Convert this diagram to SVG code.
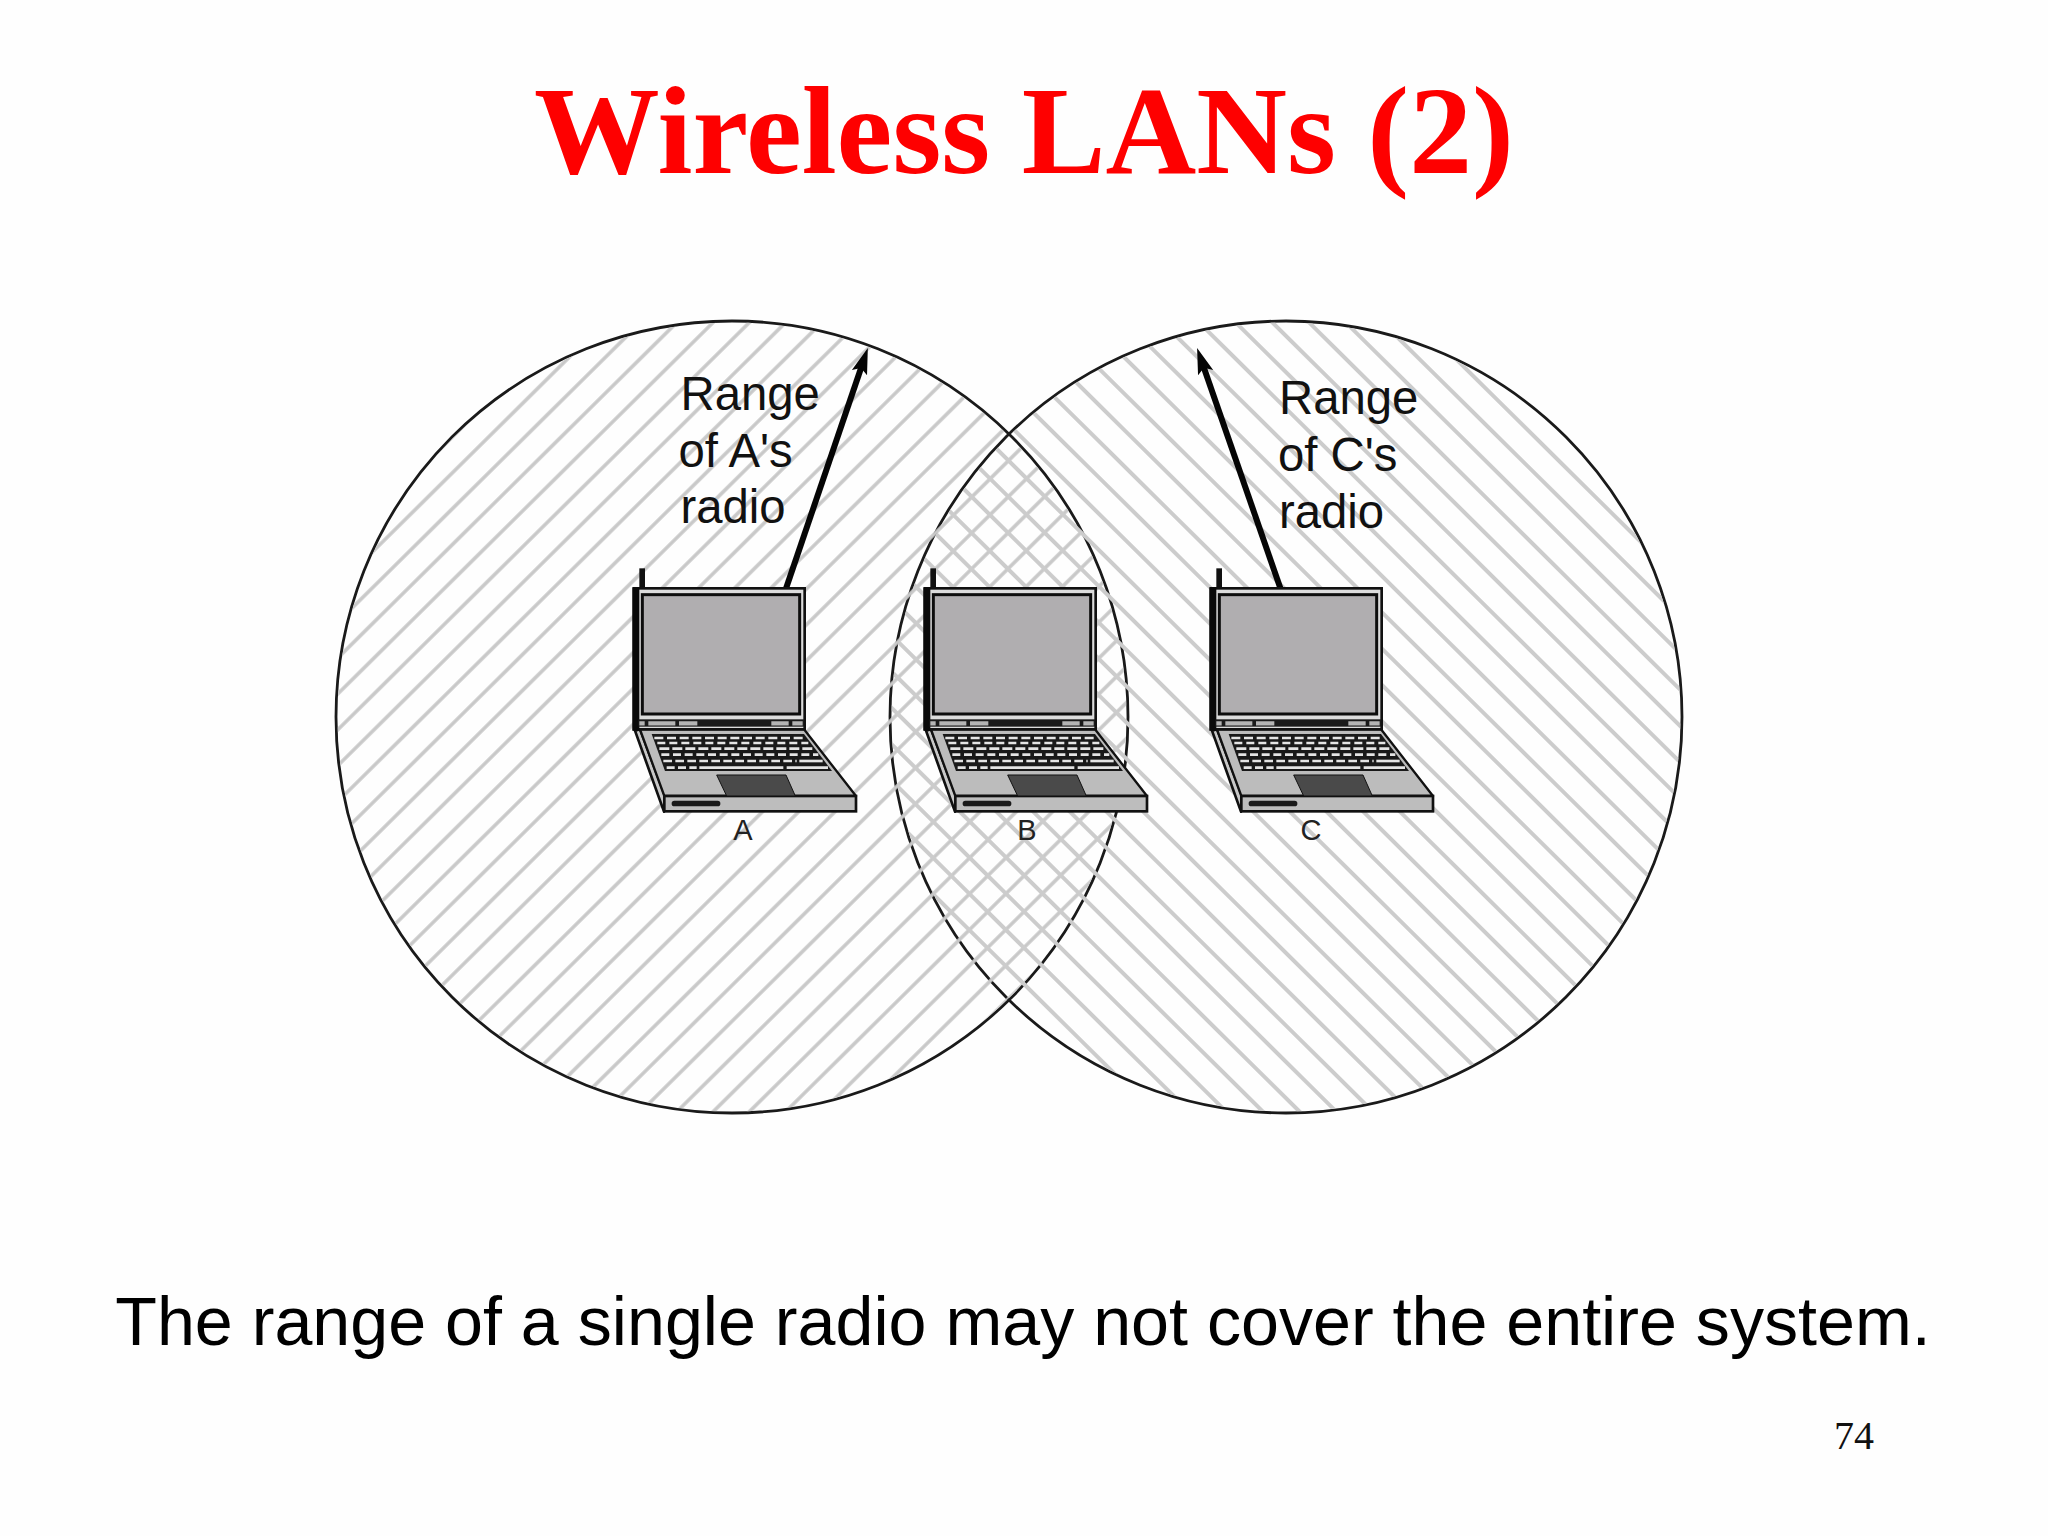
<svg xmlns="http://www.w3.org/2000/svg" width="2048" height="1536" viewBox="0 0 2048 1536">
<style>
.serif{font-family:"Liberation Serif","Times New Roman",serif}
.sans{font-family:"Liberation Sans",Arial,sans-serif}
.range{font-size:47.3px;fill:#111}
.lbl{font-size:29px;fill:#222;text-anchor:middle}
.ring{fill:none;stroke:#1a1a1a;stroke-width:2.8}
.arrow{stroke:#050505;stroke-width:6;fill:none}
.k{stroke:#e4e4e4;stroke-width:8;fill:none}
</style>
<defs>
<pattern id="hatchA" width="25.5" height="25.5" patternUnits="userSpaceOnUse" patternTransform="translate(0 5.7) rotate(-44.7)">
<line x1="0" y1="12.75" x2="25.5" y2="12.75" stroke="#c8c8c8" stroke-width="3.5"/>
</pattern>
<pattern id="hatchC" width="25.8" height="25.8" patternUnits="userSpaceOnUse" patternTransform="translate(0 -11.1) rotate(44.7)">
<line x1="0" y1="12.9" x2="25.8" y2="12.9" stroke="#cccccc" stroke-width="4"/>
</pattern>
<marker id="head" markerUnits="userSpaceOnUse" markerWidth="30" markerHeight="20" refX="11" refY="10" orient="auto">
<path d="M0 2 L26 10 L0 18 L5 10Z" fill="#050505"/>
</marker>
<g id="laptop" transform="translate(600 560) scale(.33333)">
<rect x="118" y="25" width="17" height="62" fill="#111"/>
<path d="M105 512 L120 508 L195 708 L192 755 Z" fill="#c8c8c8" stroke="#111" stroke-width="8" stroke-linejoin="round"/>
<path d="M120 508 H612 L768 708 H193 Z" fill="#bcbcbc" stroke="#111" stroke-width="7" stroke-linejoin="round"/>
<rect x="193" y="708" width="575" height="46" fill="#bdbdbd" stroke="#111" stroke-width="8"/>
<rect x="215" y="722" width="146" height="17" rx="8" fill="#1a1a1a"/>
<path d="M155 522 H612 L696 633 H195 Z" fill="#191919"/>
<path class="k" d="M163 534 H612" stroke-dasharray="27 11"/>
<path class="k" d="M172 549 H625" stroke-dasharray="24 12"/>
<path class="k" d="M178 566 H640" stroke-dasharray="30 9"/>
<path class="k" d="M184 584 H655" stroke-dasharray="24 11"/>
<path class="k" d="M190 603 H590" stroke-dasharray="26 10"/>
<path class="k" d="M598 603 H668"/>
<path class="k" d="M200 623 H290" stroke-dasharray="24 10"/>
<path class="k" d="M298 623 H550"/>
<path class="k" d="M560 623 H684"/>
<path d="M350 645 H558 L586 708 H380 Z" fill="#4a4a4a" stroke="#111" stroke-width="3"/>
<rect x="102" y="85" width="512" height="423" fill="#dcdcdc" stroke="#111" stroke-width="8"/>
<rect x="97" y="82" width="21" height="430" fill="#0a0a0a"/>
<rect x="127" y="104" width="472" height="358" fill="#b0aeb0" stroke="#0d0d0d" stroke-width="9"/>
<rect x="115" y="478" width="497" height="22" fill="#1a1a1a"/>
<path d="M118 490 H134 M145 490 H226 M237 490 H292 M514 490 H566 M577 490 H608" stroke="#b4b4b4" stroke-width="13" fill="none"/>
</g>
</defs>
<rect id="background" width="2048" height="1536" fill="#fefefe"/>
<text id="title" class="serif" x="1024" y="173" font-size="125.7" font-weight="bold" fill="#fe0000" text-anchor="middle">Wireless LANs (2)</text>
<g id="range-a">
<circle class="ring" cx="732" cy="717" r="396"/>
</g>
<g id="range-c">
<circle class="ring" cx="1286" cy="717" r="396"/>
</g>
<circle cx="732" cy="717" r="394.5" fill="url(#hatchA)"/>
<circle cx="1286" cy="717" r="394.5" fill="url(#hatchC)"/>
<g id="connectors">
<line class="arrow" x1="785.5" y1="590" x2="863" y2="362.2" marker-end="url(#head)"/>
<line class="arrow" x1="1281" y1="590" x2="1202" y2="362.2" marker-end="url(#head)"/>
</g>
<g id="node-a">
<use href="#laptop"/>
<text class="sans lbl" x="743" y="840">A</text>
</g>
<g id="node-b">
<use href="#laptop" transform="translate(291 0)"/>
<text class="sans lbl" x="1027" y="840">B</text>
</g>
<g id="node-c">
<use href="#laptop" transform="translate(577 0)"/>
<text class="sans lbl" x="1311" y="840">C</text>
</g>
<g id="label-a" class="sans range">
<text x="680.5" y="410">Range</text>
<text x="678.5" y="467">of A's</text>
<text x="680.5" y="523">radio</text>
</g>
<g id="label-c" class="sans range">
<text x="1279" y="414">Range</text>
<text x="1278" y="471">of C's</text>
<text x="1279" y="528">radio</text>
</g>
<text id="caption" class="sans" x="1023" y="1345" font-size="68.2" fill="#000" text-anchor="middle">The range of a single radio may not cover the entire system.</text>
<text id="page" class="serif" x="1834" y="1449" font-size="40" fill="#111">74</text>
</svg>
